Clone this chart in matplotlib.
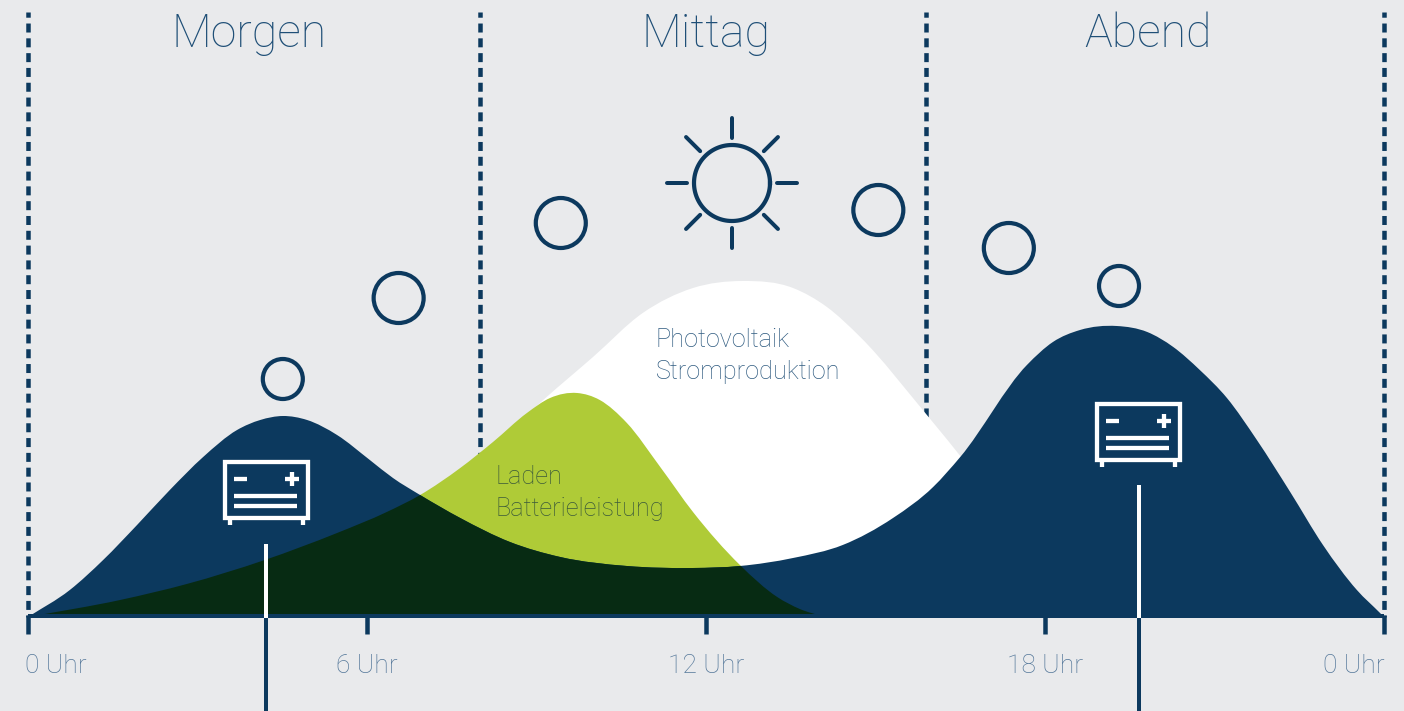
import numpy as np
import matplotlib
matplotlib.use('Agg')
import matplotlib.pyplot as plt
from matplotlib.path import Path
from matplotlib.patches import PathPatch, Rectangle

plt.rcParams['font.family'] = ['Roboto', 'DejaVu Sans']

# Kurven: Stunde / Hoehe ueber der Achse
verbrauch_h = [0, 0.74, 1.33, 1.93, 2.51, 3.10, 3.70, 4.11, 4.51, 4.94, 5.47, 6.05, 6.46, 6.94, 7.65, 8.53, 9.42,
               10.6, 11.77, 12.6, 13.54, 14.42, 15.31, 16.02, 16.5, 17.68, 18.14, 18.62, 19.27, 19.81, 20.27,
               20.74, 21.22, 21.75, 22.34, 22.92, 23.52, 23.93, 24]
verbrauch_y = [0, 27, 57, 92, 127, 160, 187, 197, 201, 197, 182, 157, 139, 122, 99, 75, 60,
               51, 49, 51, 59, 72, 99, 130, 160, 252, 275, 287, 291, 285, 270,
               247, 219, 177, 125, 72, 27, 4, 0]

pv_h = [0, 2.81, 5.47, 6.35, 6.94, 7.65, 8.23, 9.12, 10.0, 10.88, 11.77, 12.65, 13.54, 14.14, 14.73, 15.91,
        17.38, 18.97]
pv_y = [0, 30, 78, 100, 117, 143, 170, 217, 260, 304, 329, 336, 329, 310, 280, 202,
        100, 0]

laden_h = [0, 1.63, 2.81, 4.19, 5.47, 6.35, 6.94, 7.65, 8.23, 8.83, 9.24, 9.72, 10.12, 10.6, 11.19, 11.77,
           12.6, 13.26, 13.66, 14.11]
laden_y = [0, 17, 33, 57, 84, 105, 122, 149, 175, 204, 219, 224, 217, 194, 150, 105,
           52, 20, 8, 0]

tick_stunden = [0, 6, 12, 18, 24]
tick_labels = ['0 Uhr', '6 Uhr', '12 Uhr', '18 Uhr', '0 Uhr']
grenzen = [0, 8, 15.9, 24]
tageszeit = ['Morgen', 'Mittag', 'Abend']
tageszeit_h = [3.91, 12, 19.82]
kreise_h = [4.51, 6.56, 9.43, 15.05, 17.36, 19.31]
kreise_y = [238, 319, 394, 407, 369, 331]
kreise_d = [40, 50, 50, 50, 50, 40]

BG = '#e9eaec'
NAVY = '#0c395e'
GRUEN = '#afcb37'
DUNKEL = '#072b13'
TICK_FARBE = '#55789a'


def kurve(h, y):
    # Hermite-Segmente als Bezier: Steigung aus den Nachbarpunkten, damit keine Knicke entstehen
    h = np.array(h, dtype=float)
    y = np.array(y, dtype=float)
    m = np.gradient(y, h)
    verts = [(h[0], y[0])]
    codes = [Path.MOVETO]
    for i in range(len(h) - 1):
        d = h[i + 1] - h[i]
        verts += [(h[i] + d / 3, y[i] + m[i] * d / 3),
                  (h[i + 1] - d / 3, y[i + 1] - m[i + 1] * d / 3),
                  (h[i + 1], y[i + 1])]
        codes += [Path.CURVE4] * 3
    verts += [(h[0], y[0]), (h[0], y[0])]
    codes += [Path.LINETO, Path.CLOSEPOLY]
    return Path(np.array(verts), codes)


fig = plt.figure(figsize=(14.04, 7.11), dpi=100, facecolor=BG)
ax = fig.add_axes([0, 0, 1, 1])
ax.set_xlim(-28 / 56.5, (1404 - 28) / 56.5)
ax.set_ylim(-94, 617)
ax.axis('off')

# gestrichelte Tagesabschnitte, von oben nach unten
for g in grenzen:
    ax.plot([g, g], [605, 0], color=NAVY, lw=4.5 * 0.72, linestyle=(0.84, (2, 1.29)), zorder=1)

# Flaechen
ax.add_patch(PathPatch(kurve(pv_h, pv_y), fc='white', ec='none', zorder=2))
ax.add_patch(PathPatch(kurve(laden_h, laden_y), fc=GRUEN, ec='none', zorder=3))
blau = PathPatch(kurve(verbrauch_h, verbrauch_y), fc=NAVY, ec='none', zorder=4)
ax.add_patch(blau)
dunkel = PathPatch(kurve(laden_h, laden_y), fc=DUNKEL, ec='none', zorder=5)
ax.add_patch(dunkel)
dunkel.set_clip_path(blau)

# Achse mit Ticks
ax.plot([0, 24], [0.7, 0.7], color=NAVY, lw=4 * 0.72, solid_capstyle='butt', zorder=6)
for t in tick_stunden:
    ax.plot([t, t], [2.5, -17], color=NAVY, lw=4.5 * 0.72, solid_capstyle='butt', zorder=6)
ax.text(0.5, -49, tick_labels[0], color=TICK_FARBE, fontsize=19, fontweight='light', ha='center', va='center')
for t, lab in zip(tick_stunden[1:4], tick_labels[1:4]):
    ax.text(t, -49, lab, color=TICK_FARBE, fontsize=19, fontweight='light', ha='center', va='center')
ax.text(23.47, -49, tick_labels[4], color=TICK_FARBE, fontsize=19, fontweight='light', ha='center', va='center')

for h, name in zip(tageszeit_h, tageszeit):
    ax.text(h, 583, name, color='#1f4f77', fontsize=33.5, fontweight='light', ha='center', va='center')

ax.scatter(kreise_h, kreise_y, s=[(d * 0.72) ** 2 for d in kreise_d], facecolors='none',
           edgecolors=NAVY, linewidths=4.2 * 0.72, zorder=7)

# Symbole in Pixelkoordinaten
deko = fig.add_axes([0, 0, 1, 1])
deko.set_xlim(0, 1404)
deko.set_ylim(711, 0)
deko.axis('off')
deko.patch.set_alpha(0)

deko.text(656, 340, 'Photovoltaik', color='#2f5b80', fontsize=18.2, fontweight='light', va='center')
deko.text(656, 372, 'Stromproduktion', color='#2f5b80', fontsize=18.2, fontweight='light', va='center')
deko.text(496, 477, 'Laden', color='#3c5a3a', fontsize=18.2, fontweight='light', va='center')
deko.text(496, 509, 'Batterieleistung', color='#3c5a3a', fontsize=18.2, fontweight='light', va='center')

# Stromzweige zur Batterie
for x, oben in [(266, 544), (1139, 485)]:
    deko.plot([x, x], [oben, 618], color='white', lw=4 * 0.72, solid_capstyle='butt', zorder=8)
    deko.plot([x, x], [618, 711], color=NAVY, lw=4 * 0.72, solid_capstyle='butt', zorder=8)


def batterie(x0, y0):
    farbe = 'white'
    lw = 4.3 * 0.72
    deko.add_patch(Rectangle((x0 + 2, y0 + 2), 83, 56, fc='none', ec=farbe, lw=lw, zorder=9))
    for fx in (6.5, 80):
        deko.plot([x0 + fx, x0 + fx], [y0 + 58, y0 + 65], color=farbe, lw=lw, solid_capstyle='butt', zorder=9)
    deko.plot([x0 + 11, x0 + 24], [y0 + 19, y0 + 19], color=farbe, lw=lw, solid_capstyle='butt', zorder=9)
    deko.plot([x0 + 62, x0 + 76], [y0 + 19, y0 + 19], color=farbe, lw=lw, solid_capstyle='butt', zorder=9)
    deko.plot([x0 + 69, x0 + 69], [y0 + 12, y0 + 26], color=farbe, lw=lw, solid_capstyle='butt', zorder=9)
    for fy in (36, 46):
        deko.plot([x0 + 11, x0 + 74], [y0 + fy, y0 + fy], color=farbe, lw=lw, solid_capstyle='butt', zorder=9)


batterie(223, 460)
batterie(1095, 402)

# Sonne
sonne_x, sonne_y = 732, 183
deko.plot(sonne_x + 38 * np.cos(np.linspace(0, 2 * np.pi, 120)),
          sonne_y + 38 * np.sin(np.linspace(0, 2 * np.pi, 120)), color=NAVY, lw=4.2 * 0.72, zorder=9)
for w in np.deg2rad(np.arange(0, 360, 45)):
    r0, r1 = 45, 65
    deko.plot([sonne_x + r0 * np.cos(w), sonne_x + r1 * np.cos(w)],
              [sonne_y + r0 * np.sin(w), sonne_y + r1 * np.sin(w)],
              color=NAVY, lw=4 * 0.72, solid_capstyle='round', zorder=9)

fig.savefig('out.png', dpi=100, facecolor=BG)
